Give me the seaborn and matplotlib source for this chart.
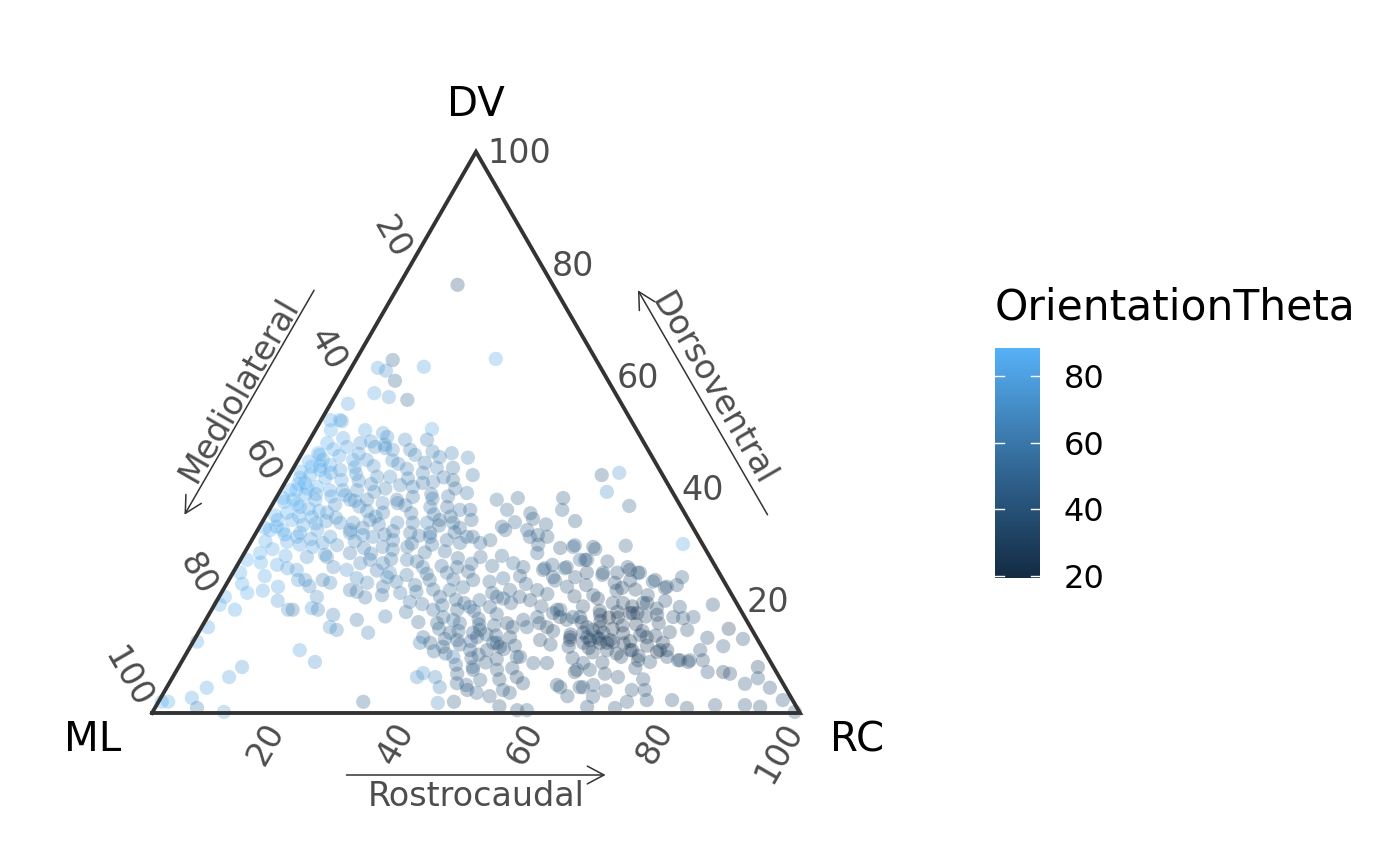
import numpy as np
import matplotlib
matplotlib.use('Agg')
import matplotlib.pyplot as plt
import matplotlib.transforms as mtransforms
from matplotlib.colors import LinearSegmentedColormap, Normalize
from matplotlib.cm import ScalarMappable
import seaborn as sns

# (DV %, RC %, OrientationTheta), grouped by region; ML = 100 - DV - RC
top_pts = [
    (76.3, 9.0, 40), (63.1, 21.5, 82), (62.9, 5.7, 50), (61.0, 5.6, 72), (61.5, 4.1, 78),
    (61.7, 11.1, 78), (59.2, 7.9, 48), (57.0, 5.8, 80), (56.3, 8.4, 76), (55.8, 11.5, 50),
    (55.1, 2.7, 80),
]
upper_pts = [
    (52.2, 2.9, 80), (52.2, 1.4, 82), (52.0, 3.3, 78), (50.4, 7.7, 78), (49.9, 10.7, 76),
    (49.2, 11.7, 70), (50.6, 17.9, 82), (48.7, 14.7, 68), (48.7, 18.1, 62), (50.4, 2.4, 84),
    (48.1, 3.0, 84), (47.4, 6.4, 80), (48.1, 8.1, 74), (47.4, 10.7, 70), (46.9, 13.7, 72),
    (46.9, 16.4, 64), (46.0, 17.6, 66), (46.3, 23.1, 62), (45.5, 26.0, 64), (44.6, 19.8, 60),
    (43.7, 22.1, 66), (43.7, 24.6, 56), (42.4, 28.3, 58), (46.3, 2.5, 86), (45.1, 3.8, 84),
    (43.9, 2.7, 86), (43.3, 4.3, 85), (44.2, 5.4, 82), (43.3, 7.4, 76), (45.1, 8.5, 80),
    (45.1, 10.6, 72), (42.1, 13.7, 66), (42.1, 15.7, 68), (40.3, 20.1, 62), (41.0, 21.3, 58),
    (41.2, 22.8, 64), (41.5, 25.7, 54), (39.2, 29.0, 56), (41.0, 3.1, 87), (40.3, 5.3, 84),
    (39.7, 7.6, 80), (39.7, 9.6, 76), (39.7, 11.8, 70), (38.0, 14.2, 64), (37.4, 16.9, 66),
    (38.0, 18.8, 60), (38.5, 21.0, 56), (36.7, 24.6, 60), (36.7, 27.2, 52), (36.2, 29.4, 58),
    (39.7, 1.5, 88.4), (38.0, 2.8, 86), (35.7, 3.0, 86), (36.7, 4.5, 84), (34.9, 7.2, 80),
    (35.7, 9.2, 76), (33.9, 12.1, 72), (33.9, 14.1, 68), (34.4, 16.4, 66), (35.7, 17.8, 62),
    (33.9, 20.9, 64), (33.9, 23.3, 58), (33.9, 25.5, 62), (34.4, 27.2, 50), (33.9, 29.5, 56),
    (34.4, 32.1, 48), (32.6, 3.9, 86), (31.4, 6.7, 82), (32.6, 9.2, 78), (31.4, 11.8, 74),
    (32.1, 14.5, 68), (31.4, 18.4, 64), (30.8, 21.8, 60), (32.1, 23.8, 56), (31.4, 27.2, 58),
    (30.8, 30.1, 52), (30.3, 32.4, 54), (31.4, 33.8, 50),
]
upper_dense_pts = [
    (49.0, 5.0, 80), (48.4, 9.6, 74), (47.2, 12.4, 70), (46.2, 8.8, 76), (45.6, 21.6, 62),
    (44.4, 15.8, 66), (43.8, 9.4, 74), (42.8, 20.4, 62), (42.0, 24.0, 58), (41.4, 11.2, 70),
    (40.6, 18.0, 64), (40.0, 26.8, 56), (39.4, 14.6, 66), (38.8, 10.4, 72), (38.2, 24.2, 58),
    (37.4, 19.2, 62), (36.8, 13.6, 68), (36.2, 31.0, 52), (35.4, 25.8, 56), (35.0, 17.0, 64),
    (34.2, 9.8, 74), (33.4, 27.6, 54), (33.0, 16.0, 64), (32.2, 30.6, 52), (31.8, 20.0, 60),
    (31.0, 9.0, 76), (30.2, 25.0, 56), (29.4, 18.0, 62), (28.6, 27.8, 54), (28.2, 12.6, 70),
    (27.4, 23.2, 58), (26.6, 36.0, 50), (26.0, 15.0, 66), (24.8, 30.0, 54), (24.0, 19.6, 62),
    (23.4, 26.0, 56), (22.6, 13.0, 68), (21.6, 30.0, 54), (20.6, 22.6, 58), (19.6, 38.4, 48),
]
left_pts = [
    (41.9, 1.9, 86), (42.4, 3.2, 84), (39.7, 2.4, 88), (38.3, 1.1, 86), (38.9, 4.2, 82),
    (38.0, 6.2, 80), (41.9, 5.8, 82), (46.0, 2.9, 80), (34.4, 2.2, 84), (32.6, 1.9, 86),
    (34.4, 4.4, 82), (33.5, 6.6, 80), (37.1, 9.7, 72), (38.0, 11.6, 74),
    (33.0, 0.9, 84), (30.5, 5.6, 82), (28.5, 2.4, 84), (26.4, 6.1, 80), (27.3, 1.0, 86),
    (25.0, 1.1, 84), (23.7, 10.7, 74), (23.7, 11.8, 70), (22.5, 8.2, 78), (21.4, 4.0, 84),
    (20.7, 0.9, 86), (19.3, 0.8, 84), (18.4, 3.6, 80), (18.4, 11.8, 72), (18.4, 12.5, 60),
    (18.7, 15.3, 74), (18.4, 16.4, 66), (17.5, 19.2, 62), (16.6, 23.3, 58), (14.3, 26.2, 64),
    (15.3, 19.8, 72), (14.8, 21.1, 66), (15.3, 1.0, 80), (12.7, 0.6, 82),
    (32.1, 6.8, 80), (30.3, 11.2, 74), (29.9, 13.6, 70), (32.6, 14.3, 66), (31.7, 16.7, 70),
    (27.3, 20.0, 62), (26.7, 18.8, 66), (25.5, 17.3, 72), (28.5, 16.3, 60), (27.8, 13.1, 68),
    (29.6, 10.0, 78), (27.8, 10.0, 72), (25.5, 9.6, 76), (23.7, 14.5, 62), (23.2, 15.9, 66),
    (20.7, 15.1, 70), (21.9, 19.6, 60), (21.6, 20.8, 56), (23.2, 21.6, 64), (22.5, 24.4, 58),
]
left_dense_pts = [
    (47.0, 4.5, 82), (45.8, 6.0, 80), (44.8, 1.8, 86), (44.0, 4.0, 84), (43.0, 1.5, 87),
    (42.8, 6.2, 80), (41.5, 8.5, 78), (40.8, 2.2, 86), (40.0, 4.0, 84), (39.0, 5.8, 82),
    (38.6, 8.4, 78), (37.6, 1.6, 86), (37.2, 3.8, 85), (36.4, 6.0, 82), (36.0, 7.8, 80),
    (35.2, 1.4, 86), (35.0, 5.2, 84), (33.8, 8.4, 78), (33.2, 2.6, 84), (31.8, 4.6, 82),
    (30.6, 2.2, 84), (30.0, 7.8, 78), (29.2, 4.0, 82), (28.0, 6.6, 80), (26.8, 3.4, 84),
    (25.8, 8.0, 76), (24.4, 5.2, 82), (23.0, 2.4, 84), (21.8, 6.2, 80), (20.0, 9.4, 76),
]
center_pts = [
    (47.8, 12.0, 72), (46.6, 20.0, 64), (45.0, 14.6, 70), (44.0, 12.2, 72), (43.5, 17.6, 66),
    (42.6, 10.2, 74), (41.8, 18.6, 62), (40.8, 13.4, 68), (40.0, 16.0, 64), (39.0, 23.6, 58),
    (38.6, 26.4, 56), (37.8, 12.4, 70), (37.0, 20.6, 60), (36.0, 15.2, 66), (35.6, 22.2, 58),
    (35.0, 28.6, 54), (34.8, 11.0, 72), (33.6, 18.2, 62), (33.0, 31.0, 52), (32.4, 21.0, 60),
    (31.6, 25.4, 56), (30.6, 16.0, 66), (30.0, 28.2, 54), (29.6, 24.6, 58), (28.8, 30.8, 52),
    (28.4, 19.6, 62), (27.6, 33.4, 50), (27.0, 27.4, 54), (26.2, 31.6, 52), (25.4, 22.0, 60),
    (24.6, 27.0, 56), (23.8, 34.6, 50), (22.8, 29.2, 54), (22.0, 32.4, 52), (21.0, 25.0, 58),
    (20.2, 36.8, 48), (19.4, 32.0, 52), (18.0, 30.2, 54), (17.2, 27.4, 58), (16.2, 33.0, 50),
]
bottom_left_pts = [
    (11.2, 17.2, 78), (9.1, 20.6, 72), (8.2, 9.8, 76), (6.4, 8.7, 78), (4.5, 6.2, 80),
    (2.7, 4.8, 80), (2.0, 1.5, 84), (2.0, 0.5, 86), (0.9, 6.5, 62), (0.2, 11.0, 80),
    (2.0, 31.6, 50),
]
mid_pts = [
    (29.6, 20.8, 62), (29.1, 22.6, 60), (32.1, 26.9, 56), (30.3, 35.5, 52), (30.8, 36.8, 50),
    (31.4, 32.9, 54), (31.4, 42.6, 48), (31.4, 45.3, 44), (29.6, 50.2, 46), (29.6, 53.3, 42),
    (27.3, 53.5, 44), (27.3, 25.7, 58), (26.0, 28.8, 56), (24.2, 24.2, 64), (21.4, 27.6, 60),
    (19.8, 29.9, 58), (23.7, 31.0, 52), (25.0, 33.0, 56), (26.0, 34.1, 50), (23.7, 37.7, 46),
    (20.1, 40.5, 50), (21.9, 35.0, 54), (20.7, 34.1, 48), (18.4, 34.2, 52), (18.4, 37.9, 46),
    (18.9, 39.6, 50), (18.9, 42.7, 44), (20.7, 42.9, 48), (21.9, 44.3, 46), (20.7, 46.4, 42),
    (26.7, 42.4, 50), (26.0, 44.3, 46), (28.5, 45.2, 48), (25.5, 47.6, 44), (24.2, 49.8, 42),
    (26.0, 51.0, 46), (27.3, 52.4, 48), (22.5, 52.8, 40), (21.9, 48.5, 44), (20.1, 48.3, 38),
    (17.8, 53.0, 36), (18.4, 53.8, 42), (17.1, 57.5, 38), (14.8, 60.6, 34), (13.5, 60.4, 40),
    (16.6, 49.0, 40), (17.1, 50.9, 44), (16.0, 46.8, 34), (13.5, 48.5, 38), (12.5, 47.0, 36),
    (11.8, 47.8, 32), (11.2, 46.1, 40), (14.8, 43.2, 42), (14.3, 42.4, 46), (16.0, 39.5, 48),
    (14.3, 38.8, 44), (17.1, 36.4, 50), (16.0, 36.0, 46), (13.5, 35.1, 50), (12.5, 36.7, 46),
    (11.8, 39.0, 42), (13.0, 40.6, 48), (11.2, 43.5, 44), (10.0, 41.5, 60), (7.7, 45.7, 40),
    (7.7, 49.4, 44), (10.0, 51.8, 40), (6.4, 53.1, 34), (8.9, 54.4, 42), (8.9, 56.5, 38),
    (4.6, 60.7, 40), (7.7, 61.7, 42), (7.7, 63.7, 36), (4.6, 64.2, 40), (2.9, 66.6, 42),
    (1.1, 66.6, 38), (7.1, 38.3, 72), (6.4, 40.5, 66), (4.6, 42.1, 62), (1.8, 43.2, 70),
    (5.3, 44.4, 46), (4.1, 46.6, 42), (3.6, 48.3, 48), (5.9, 47.7, 44), (4.1, 52.1, 40),
    (3.6, 53.4, 44), (5.3, 54.6, 40), (0.5, 56.1, 42), (0.5, 57.6, 46), (6.4, 37.7, 70),
    (12.5, 35.1, 60), (26.7, 22.3, 62), (25.0, 24.2, 66),
]
lower_pts = [
    (16.8, 42.0, 48), (15.6, 45.0, 46), (14.6, 40.0, 50), (13.8, 46.2, 44), (12.8, 42.8, 48),
    (12.0, 50.0, 42), (11.0, 38.0, 50), (10.4, 45.2, 46), (9.6, 48.4, 42), (8.6, 42.6, 48),
    (19.6, 45.6, 46), (21.2, 50.4, 42), (23.0, 46.2, 46), (24.0, 42.2, 48), (26.4, 48.6, 44),
    (28.0, 40.0, 48), (30.0, 44.6, 46), (32.6, 38.2, 50), (33.6, 44.0, 44), (35.6, 40.6, 46),
]
lower_dense_pts = [
    (27.8, 36.8, 50), (26.2, 39.4, 48), (25.2, 36.2, 50), (24.4, 44.6, 46), (23.4, 40.4, 48),
    (22.4, 36.8, 50), (21.4, 41.8, 46), (20.4, 44.0, 46), (19.2, 35.2, 52), (18.2, 40.6, 48),
    (17.6, 44.4, 46), (16.6, 38.2, 50), (15.8, 42.6, 46), (15.0, 36.8, 50), (14.0, 44.6, 44),
    (13.2, 38.6, 48), (12.2, 41.4, 46), (11.4, 48.6, 42), (10.6, 40.0, 48), (9.8, 44.4, 44),
    (9.0, 47.0, 42), (8.0, 51.6, 40), (7.0, 43.6, 46), (6.0, 50.6, 40), (5.0, 46.0, 44),
    (3.0, 50.6, 42), (2.0, 45.6, 46), (1.2, 53.0, 40), (23.6, 50.4, 44), (19.0, 50.6, 42),
]
right_pts = [
    (42.4, 48.2, 46), (42.8, 50.7, 76), (39.4, 50.5, 70), (36.9, 55.2, 48), (29.8, 58.2, 46),
    (30.1, 66.9, 80), (38.3, 44.3, 44), (36.2, 45.2, 48), (34.2, 48.2, 44), (38.3, 37.3, 48),
    (38.0, 34.2, 54), (36.2, 36.7, 50), (34.6, 41.5, 44), (34.0, 39.0, 50), (33.2, 37.4, 48),
    (32.6, 41.6, 48), (31.7, 43.7, 44), (29.4, 48.3, 40), (29.9, 50.3, 46), (29.2, 53.8, 44),
    (27.3, 53.2, 40), (25.8, 47.7, 46), (25.8, 50.8, 42), (24.2, 53.2, 42), (25.0, 59.3, 38),
    (25.5, 61.0, 36), (25.0, 62.8, 42), (23.4, 65.6, 38), (22.5, 68.2, 40), (24.2, 69.7, 44),
    (22.3, 61.4, 34), (19.6, 62.9, 32), (19.6, 66.0, 36), (17.8, 65.3, 30), (17.1, 71.9, 38),
    (17.1, 75.0, 42), (14.3, 62.5, 34), (12.5, 62.9, 30), (11.2, 68.2, 32), (11.2, 72.8, 34),
    (10.0, 74.5, 38), (9.4, 78.3, 42), (9.4, 76.8, 36), (18.4, 53.3, 42), (17.1, 54.4, 36),
    (15.3, 53.3, 34), (17.1, 56.4, 40), (15.3, 59.5, 34), (13.5, 61.9, 32), (13.0, 64.2, 36),
    (12.5, 60.3, 30), (13.0, 58.0, 38), (13.0, 53.4, 36), (15.3, 50.2, 44), (15.3, 48.0, 40),
    (12.5, 46.4, 48), (13.5, 43.4, 44), (10.0, 51.3, 46), (8.9, 62.1, 40), (8.2, 45.4, 48),
]
right_dense_pts = [
    (27.0, 56.8, 40), (26.0, 60.4, 38), (24.6, 57.2, 38), (23.6, 62.0, 36), (22.8, 55.6, 38),
    (21.8, 60.8, 34), (21.0, 66.0, 36), (20.0, 69.2, 38), (19.0, 57.0, 34), (18.0, 62.8, 30),
    (17.2, 67.6, 30), (16.4, 61.0, 28), (15.6, 64.8, 30), (14.6, 68.4, 30), (14.0, 57.6, 32),
    (13.2, 62.4, 30), (12.4, 66.6, 28), (11.8, 58.4, 34), (10.8, 62.6, 32), (10.0, 67.4, 32),
    (9.0, 65.0, 34), (8.0, 70.6, 36), (7.0, 66.4, 36), (6.0, 72.8, 38), (5.0, 60.0, 38),
    (4.0, 68.0, 38), (3.0, 62.6, 40), (16.0, 51.8, 38), (14.6, 54.6, 36), (12.2, 55.4, 36),
]
corner_pts = [
    (25.0, 54.6, 34), (25.0, 57.1, 40), (25.0, 62.5, 42), (23.7, 65.8, 40), (22.3, 68.0, 36),
    (22.8, 69.6, 40), (21.0, 57.6, 36), (19.6, 61.3, 34), (17.8, 64.9, 26), (17.8, 66.0, 30),
    (19.6, 66.6, 36), (17.5, 69.2, 32), (16.9, 73.5, 38), (18.9, 72.0, 40), (14.8, 75.2, 36),
    (14.4, 72.7, 32), (12.5, 72.6, 28), (11.2, 73.9, 30), (10.9, 72.5, 26), (13.5, 69.6, 30),
    (13.9, 68.4, 34), (11.2, 68.5, 28), (9.4, 70.3, 32), (9.1, 72.3, 36), (9.4, 76.5, 38),
    (9.1, 78.2, 34), (11.2, 79.0, 38), (13.4, 79.0, 36), (19.3, 76.9, 38), (15.0, 81.5, 28),
    (13.2, 84.6, 40), (11.9, 82.2, 42), (9.4, 80.3, 36), (7.3, 82.1, 40), (7.3, 84.5, 30),
    (7.0, 85.7, 34), (5.2, 88.9, 42), (8.2, 89.4, 32), (4.5, 93.1, 38), (6.2, 90.4, 40),
    (1.4, 90.8, 40), (1.1, 93.3, 36), (1.4, 86.2, 42), (0.9, 82.1, 38), (2.3, 79.1, 40),
    (4.1, 74.0, 38), (4.1, 72.0, 36), (2.3, 75.2, 40), (2.0, 72.3, 42), (0.9, 71.0, 38),
    (5.0, 65.6, 44), (4.6, 63.7, 36), (7.3, 61.6, 34), (6.4, 68.7, 38), (17.5, 60.4, 30),
    (15.2, 61.5, 28), (14.3, 59.4, 32), (16.6, 55.7, 36), (13.5, 57.8, 30), (13.0, 61.1, 26),
    (12.5, 64.0, 30), (11.2, 64.6, 34), (12.7, 64.8, 28), (0.2, 99.1, 44), (2.3, 96.2, 40),
    (17.0, 62.0, 19.4),
]
corner_dense_pts = [
    (20.4, 58.6, 32), (19.0, 64.6, 28), (18.2, 60.0, 30), (17.0, 63.4, 26), (16.2, 58.2, 30),
    (15.8, 66.8, 28), (15.0, 63.6, 24), (14.2, 65.6, 26), (13.8, 70.8, 30), (12.8, 67.4, 26),
    (12.0, 70.4, 28), (11.6, 61.6, 30), (10.6, 66.4, 28), (10.2, 70.0, 30), (9.8, 60.0, 34),
    (20.8, 54.8, 34), (22.0, 63.6, 34), (23.2, 59.8, 36), (16.0, 70.2, 32), (18.6, 68.6, 34),
]

tick_vals = [20, 40, 60, 80, 100]
cbar_ticks = [20, 40, 60, 80]
vertex_names = ['ML', 'DV', 'RC']
arrow_names = ['Mediolateral', 'Dorsoventral', 'Rostrocaudal']
hue_name = 'OrientationTheta'

H = np.sqrt(3) / 2
PX = 1 / 648          # data units per output pixel
EDGE = '#333333'
GREY = '#4D4D4D'


def tern(dv, rc):
    dv, rc = np.asarray(dv) / 100, np.asarray(rc) / 100
    return rc + dv / 2, dv * H


pts = np.array(top_pts + upper_pts + upper_dense_pts + left_pts + left_dense_pts +
               center_pts + bottom_left_pts + mid_pts + lower_pts + lower_dense_pts +
               right_pts + right_dense_pts + corner_pts + corner_dense_pts)
dv, rc, theta = pts[:, 0], pts[:, 1], pts[:, 2]
x, y = tern(dv, rc)

cmap = LinearSegmentedColormap.from_list('gg', ['#132B43', '#336A98', '#56B1F7'])
norm = Normalize(theta.min(), theta.max())

fig = plt.figure(figsize=(14, 8.65), dpi=100)
ax = fig.add_axes([0, 0, 1, 1])
sns.scatterplot(x=x, y=y, hue=theta, palette=cmap, hue_norm=norm, s=105,
                alpha=0.3, linewidth=0, legend=False, ax=ax, zorder=2)
ax.set_xlim(-152 * PX, 1248 * PX)
ax.set_ylim(-152 * PX, 713 * PX)
ax.axis('off')

# triangle frame: ML (0,0), RC (1,0), DV (0.5,H)
ax.plot([0, 1, 0.5, 0], [0, 0, H, 0], color=EDGE, lw=2.8, zorder=3,
        solid_joinstyle='miter', clip_on=False)

# vertex titles
for name, (vx, vy), (ox, oy) in zip(vertex_names, [(0, 0), (0.5, H), (1, 0)],
                                    [(-59, -27), (0, 47), (57, -27)]):
    ax.text(vx + ox * PX, vy + oy * PX, name, fontsize=29, ha='center', va='center')

# tick labels
for v in tick_vals:
    f = v / 100
    # RC along the bottom
    ax.text(f - 5 * PX, -12 * PX, str(v), fontsize=24, color=GREY, rotation=60,
            rotation_mode='anchor', ha='right', va='center')
    # DV along the right edge
    ax.text(1 - f / 2 + 11 * PX, f * H - 2 * PX, str(v), fontsize=24, color=GREY,
            ha='left', va='center')
    # ML along the left edge
    ax.text((1 - f) / 2 - 9 * PX, (1 - f) * H + 8 * PX, str(v), fontsize=24,
            color=GREY, rotation=-60, rotation_mode='anchor', ha='right', va='center')

# axis arrows, parallel to the edges and offset outward
left_n, right_n = np.array([-H, 0.5]), np.array([H, 0.5])
def left_pt(f, off): return np.array([(1 - f) / 2, (1 - f) * H]) + left_n * off * PX
def right_pt(f, off): return np.array([1 - f / 2, f * H]) + right_n * off * PX

aprops = dict(arrowstyle='->,head_length=0.6,head_width=0.32', color=EDGE, lw=1.1,
              mutation_scale=20, shrinkA=0, shrinkB=0)
ax.annotate('', xy=left_pt(0.71, 71), xytext=left_pt(0.31, 71), arrowprops=aprops)
ax.annotate('', xy=right_pt(0.69, 71), xytext=right_pt(0.29, 71), arrowprops=aprops)
ax.annotate('', xy=(0.70, -62 * PX), xytext=(0.30, -62 * PX), arrowprops=aprops)
ax.text(*left_pt(0.5, 86), arrow_names[0], fontsize=24, color=GREY, rotation=60,
        ha='center', va='center', rotation_mode='anchor')
ax.text(*right_pt(0.5, 86), arrow_names[1], fontsize=24, color=GREY, rotation=-60,
        ha='center', va='center', rotation_mode='anchor')
ax.text(0.5, -84 * PX, arrow_names[2], fontsize=24, color=GREY, ha='center', va='center')

# colour bar
cax = fig.add_axes([995 / 1400, 1 - 578 / 865, 45 / 1400, 230 / 865])
cb = fig.colorbar(ScalarMappable(norm=norm, cmap=cmap), cax=cax)
cb.outline.set_visible(False)
cb.set_ticks(cbar_ticks)
cax.tick_params(length=0, pad=17, labelsize=23)
tr = mtransforms.blended_transform_factory(cax.transAxes, cax.transData)
for t in cbar_ticks:
    cax.plot([0, 0.2], [t, t], color='white', lw=1, transform=tr)
    cax.plot([0.8, 1], [t, t], color='white', lw=1, transform=tr)
fig.text(995 / 1400, 1 - 307 / 865, hue_name, fontsize=30.5, ha='left', va='center')

fig.savefig('out.png', dpi=100)
